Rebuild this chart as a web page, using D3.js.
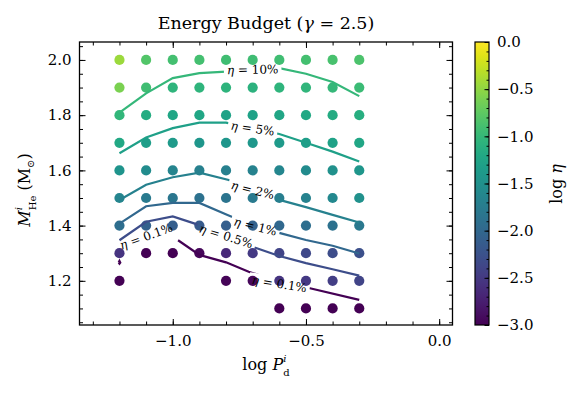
<!DOCTYPE html>
<html><head><meta charset="utf-8">
<script src="https://cdn.jsdelivr.net/npm/d3@7"></script>
<style>
body{margin:0;background:#fff;}
svg text{font-family:"DejaVu Serif",serif;fill:#000;}
</style></head><body>
<svg id="chart" width="582" height="399"></svg>
<script>
// ---------- data ----------
const logP = [-1.2,-1.1,-1.0,-0.9,-0.8,-0.7,-0.6,-0.5,-0.4,-0.3];
const massHe = [2.0,1.9,1.8,1.7,1.6,1.5,1.4,1.3,1.2,1.1];
// log eta per mass row (same order as massHe), null = no model
const logEtaRows = [
 [-0.45,-0.82,-0.90,-0.90,-0.92,-0.93,-0.92,-0.90,-0.87,-0.85],
 [-0.60,-0.92,-1.05,-1.05,-1.06,-1.08,-1.05,-1.04,-1.00,-0.95],
 [-1.03,-1.15,-1.22,-1.23,-1.27,-1.27,-1.24,-1.20,-1.17,-1.12],
 [-1.20,-1.33,-1.38,-1.42,-1.42,-1.41,-1.38,-1.33,-1.27,-1.22],
 [-1.45,-1.55,-1.65,-1.70,-1.70,-1.67,-1.62,-1.56,-1.49,-1.42],
 [-1.63,-1.78,-1.82,-1.88,-1.85,-1.78,-1.73,-1.67,-1.60,-1.50],
 [-1.93,-2.07,-2.10,-2.15,-2.10,-2.07,-2.00,-1.93,-1.88,-1.80],
 [-2.55,-3.00,-3.00,-2.95,-2.65,-2.50,-2.40,-2.35,-2.30,-2.27],
 [-3.00, null, null, null,-2.97,-2.95,-2.55,-2.50,-2.45,-2.40],
 [ null, null, null, null, null, null,-3.00,-3.00,-3.00,-3.00]
];
const contourLevels = [-1, -1.301, -1.699, -2, -2.301, -3];
const contourNames = ["10%","5%","2%","1%","0.5%","0.1%"];
const contour10 = [[[-1.2,1.809],[-1.1,1.879],[-1.0,1.934],[-0.9,1.952],[-0.8,1.958],[-0.7,1.965],[-0.6,1.970],[-0.5,1.950],[-0.4,1.920],[-0.3,1.869]]];
const contour5 = [[[-1.2,1.662],[-1.1,1.719],[-1.0,1.753],[-0.9,1.773],[-0.8,1.773],[-0.7,1.752],[-0.6,1.732],[-0.5,1.700],[-0.4,1.668],[-0.3,1.632]]];
const contour2 = [[[-1.2,1.493],[-1.1,1.548],[-1.0,1.575],[-0.9,1.592],[-0.79,1.565],[-0.7,1.529],[-0.6,1.493],[-0.5,1.467],[-0.4,1.439],[-0.3,1.411]]];
const contour1 = [[[-1.2,1.407],[-1.1,1.470],[-1.0,1.482],[-0.9,1.482],[-0.79,1.437],[-0.69,1.397],[-0.59,1.371],[-0.5,1.348],[-0.4,1.327],[-0.3,1.299]]];
const contour05 = [[[-1.2,1.347],[-1.1,1.414],[-1.0,1.433],[-0.92,1.408],[-0.8,1.362],[-0.69,1.320],[-0.6,1.290],[-0.5,1.264],[-0.4,1.242],[-0.3,1.219]]];
const contour01 = [
 [[-0.98,1.347],[-0.9,1.294],[-0.8,1.267],[-0.715,1.233],[-0.6,1.195],[-0.485,1.173],[-0.3,1.131]],
 [[-1.203,1.266],[-1.2,1.272],[-1.197,1.266],[-1.2,1.262],[-1.203,1.266]]
];
const contourPaths = [contour10, contour5, contour2, contour1, contour05, contour01];
// inline labels: level index, position (data), angle (deg)
const labelLevel = [0, 1, 2, 3, 4, 5, 5];
const labelX = [-0.70, -0.70, -0.70, -0.69, -0.80, -1.10, -0.60];
const labelY = [1.965, 1.752, 1.529, 1.397, 1.362, 1.361, 1.189];
const labelAngle = [-1, 8, 14, 14, 17, -20, 9];
const xTicksMajor = [-1.0, -0.5, 0.0];
const yTicksMajor = [1.2, 1.4, 1.6, 1.8, 2.0];
const cbTicks = [-3.0, -2.5, -2.0, -1.5, -1.0, -0.5, 0.0];

// ---------- layout ----------
const svg = d3.select("#chart");
const L = 79.5, R = 452.5, T = 42, B = 325;
const x = d3.scaleLinear().domain([-1.35, 0.05]).range([L, R]);
const y = d3.scaleLinear().domain([1.04, 2.065]).range([B, T]);
const cmin = -3, cmax = 0;
const color = v => d3.interpolateViridis(Math.max(0, Math.min(1, (v - cmin) / (cmax - cmin))));
const fmt = d3.format(".1f");
const FS = 15;

// points
const pts = [];
massHe.forEach((m, i) => logP.forEach((p, j) => {
  const v = logEtaRows[i][j];
  if (v !== null) pts.push({p, m, v});
}));
svg.append("g").selectAll("circle").data(pts).join("circle")
  .attr("cx", d => x(d.p)).attr("cy", d => y(d.m)).attr("r", 5.1)
  .attr("fill", d => color(d.v));

// label texts (measure first for masks)
const labelG = svg.append("g");
const labels = labelLevel.map((lv, k) => ({lv, x: labelX[k], y: labelY[k], a: labelAngle[k]}));
const lt = labelG.selectAll("text").data(labels).join("text")
  .attr("transform", d => `translate(${x(d.x)},${y(d.y)}) rotate(${d.a})`)
  .attr("text-anchor", "middle").attr("dy", "0.35em")
  .attr("font-size", 12).attr("fill", "#111");
lt.append("tspan").attr("font-style", "italic").text("η");
lt.append("tspan").text(d => " = " + contourNames[d.lv]);
lt.each(function(d){ d.w = this.getComputedTextLength(); });

// masks per level
const defs = svg.append("defs");
contourLevels.forEach((lv, i) => {
  const mk = defs.append("mask").attr("id", "m" + i).attr("maskUnits", "userSpaceOnUse")
    .attr("x", 0).attr("y", 0).attr("width", 582).attr("height", 399);
  mk.append("rect").attr("width", 582).attr("height", 399).attr("fill", "#fff");
  labels.filter(d => d.lv === i).forEach(d => {
    mk.append("rect").attr("x", -d.w/2 - 3).attr("y", -7).attr("width", d.w + 6).attr("height", 14)
      .attr("fill", "#000")
      .attr("transform", `translate(${x(d.x)},${y(d.y)}) rotate(${d.a})`);
  });
});

// contour lines
const line = d3.line().x(d => x(d[0])).y(d => y(d[1]));
const cg = svg.insert("g", () => labelG.node());
contourPaths.forEach((segs, i) => {
  cg.append("g").attr("mask", `url(#m${i})`).selectAll("path").data(segs).join("path")
    .attr("d", line).attr("fill", "none").attr("stroke", color(contourLevels[i]))
    .attr("stroke-width", 2.2).attr("stroke-linejoin", "miter");
});

// axes
function styleAxis(g){ g.select(".domain").remove(); g.selectAll("line").attr("stroke","#000").attr("stroke-width",1); g.selectAll("text").attr("font-size",FS).attr("fill","#000").attr("font-family","DejaVu Serif"); }
const xMinor = d3.range(-13, 1).map(k => k/10);
const yMinor = d3.range(21, 42).map(k => k*0.05).filter(v => v >= 1.04 && v <= 2.065);
svg.append("g").attr("transform", `translate(0,${B})`)
  .call(d3.axisBottom(x).tickValues(xTicksMajor).tickFormat(fmt).tickSize(-6).tickPadding(10)).call(styleAxis);
svg.append("g").attr("transform", `translate(0,${B})`)
  .call(d3.axisBottom(x).tickValues(xMinor).tickFormat("").tickSize(-3.5)).call(styleAxis);
svg.append("g").attr("transform", `translate(0,${T})`)
  .call(d3.axisTop(x).tickValues(xTicksMajor).tickFormat("").tickSize(-6)).call(styleAxis);
svg.append("g").attr("transform", `translate(0,${T})`)
  .call(d3.axisTop(x).tickValues(xMinor).tickFormat("").tickSize(-3.5)).call(styleAxis);
svg.append("g").attr("transform", `translate(${L},0)`)
  .call(d3.axisLeft(y).tickValues(yTicksMajor).tickFormat(fmt).tickSize(-6).tickPadding(8)).call(styleAxis);
svg.append("g").attr("transform", `translate(${L},0)`)
  .call(d3.axisLeft(y).tickValues(yMinor).tickFormat("").tickSize(-3.5)).call(styleAxis);
svg.append("g").attr("transform", `translate(${R},0)`)
  .call(d3.axisRight(y).tickValues(yTicksMajor).tickFormat("").tickSize(-6)).call(styleAxis);
svg.append("g").attr("transform", `translate(${R},0)`)
  .call(d3.axisRight(y).tickValues(yMinor).tickFormat("").tickSize(-3.5)).call(styleAxis);
svg.append("rect").attr("x", L).attr("y", T).attr("width", R - L).attr("height", B - T)
  .attr("fill", "none").attr("stroke", "#000").attr("stroke-width", 1.3);

// title & axis labels
const title = svg.append("text").attr("x", (L + R)/2).attr("y", 29).attr("text-anchor", "middle").attr("font-size", 17.5);
title.append("tspan").text("Energy Budget (");
title.append("tspan").attr("font-style", "italic").text("γ");
title.append("tspan").text(" = 2.5)");

const xl = svg.append("text").attr("x", (L + R)/2).attr("y", 370).attr("text-anchor", "middle").attr("font-size", 16);
xl.append("tspan").text("log ");
xl.append("tspan").attr("font-style", "italic").text("P");
xl.append("tspan").attr("font-size", 10).attr("font-style", "italic").attr("dy", -8).text("i");
xl.append("tspan").attr("font-size", 10).attr("dx", -3.2).attr("dy", 14).text("d");

const yl = svg.append("text").attr("transform", "translate(30,190) rotate(-90)").attr("text-anchor", "middle").attr("font-size", 16);
yl.append("tspan").attr("font-style", "italic").text("M");
yl.append("tspan").attr("font-size", 10).attr("font-style", "italic").attr("dy", -8).text("i");
yl.append("tspan").attr("font-size", 10).attr("dx", -3.2).attr("dy", 14).text("He");
yl.append("tspan").attr("dy", -6).text(" (M");
yl.append("tspan").attr("font-size", 10).attr("dy", 4).text("⊙");
yl.append("tspan").attr("dy", -4).text(")");

// colorbar
const CBL = 475, CBR = 489;
const cy = d3.scaleLinear().domain([cmin, cmax]).range([B, T]);
const grad = defs.append("linearGradient").attr("id", "cbg").attr("x1", 0).attr("y1", 1).attr("x2", 0).attr("y2", 0);
d3.range(0, 1.0001, 0.05).forEach(t => grad.append("stop").attr("offset", t).attr("stop-color", d3.interpolateViridis(t)));
svg.append("rect").attr("x", CBL).attr("y", T).attr("width", CBR - CBL).attr("height", B - T).attr("fill", "url(#cbg)");
const cbMinor = d3.range(-30, 1).map(k => k/10);
svg.append("g").attr("transform", `translate(${CBR},0)`)
  .call(d3.axisRight(cy).tickValues(cbTicks).tickFormat(fmt).tickSize(-4.5).tickPadding(8)).call(styleAxis);
svg.append("g").attr("transform", `translate(${CBR},0)`)
  .call(d3.axisRight(cy).tickValues(cbMinor).tickFormat("").tickSize(-2.5)).call(styleAxis);
svg.append("rect").attr("x", CBL).attr("y", T).attr("width", CBR - CBL).attr("height", B - T)
  .attr("fill", "none").attr("stroke", "#000").attr("stroke-width", 1.2);
const cbl = svg.append("text").attr("transform", "translate(562,184) rotate(-90)").attr("text-anchor", "middle").attr("font-size", 16);
cbl.append("tspan").text("log ");
cbl.append("tspan").attr("font-style", "italic").text("η");
</script>
</body></html>
